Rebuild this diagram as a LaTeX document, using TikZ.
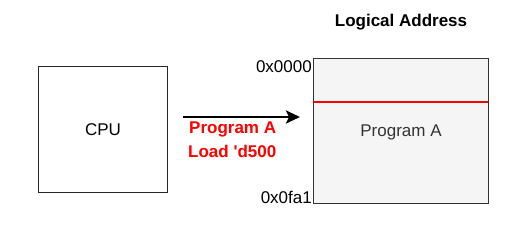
\documentclass[tikz,border=0pt]{standalone}
\usepackage{fontspec}
\setmainfont{Liberation Sans}
\newfontfamily\plainsans{Liberation Sans}[Ligatures=TeXOff]
\usetikzlibrary{arrows.meta}
\definecolor{memfill}{HTML}{F5F5F5}
\definecolor{memline}{HTML}{333333}
\definecolor{txtgray}{HTML}{333333}
\begin{document}
\begin{tikzpicture}[x=1pt,y=-1pt,
  lbl/.style={font=\fontsize{17}{20}\selectfont, inner sep=0pt},
  redlbl/.style={font=\plainsans\fontsize{17}{20}\selectfont\bfseries, text=red, inner sep=0pt, anchor=west}]
\useasboundingbox (0,0) rectangle (519,229);
\node[draw=black!85, line width=1pt, minimum width=129pt, minimum height=126pt, inner sep=0pt] (cpu) at (103,130) {};
\node[lbl] (cputxt) at (cpu.center) {CPU};
\node[draw=memline, fill=memfill, line width=1pt, minimum width=175pt, minimum height=145pt, inner sep=0pt] (mem) at (400.5,131.5) {};
\coordinate (redl) at (313,102);
\coordinate (redr) at (488,102);
\draw[red, line width=2pt] (redl) -- (redr);
\node[lbl, text=txtgray] (proga) at (401,132) {Program A};
\node[lbl, anchor=east] (a0) at (312,67) {0x0000};
\node[lbl, anchor=east] (a1) at (312,197) {0x0fa1};
\node[lbl, font=\fontsize{17}{20}\selectfont\bfseries] (title) at (401,22) {Logical Address};
\coordinate (as) at (183,117);
\coordinate (ae) at (300,117);
\draw[line width=2.5pt, -{Stealth[length=14pt,width=13pt,inset=3pt]}] (as) -- (ae);
\node[redlbl] (l1) at (189,129) {Program A};
\node[redlbl] (l2) at (188,151) {Load 'd500};
\end{tikzpicture}
\end{document}
